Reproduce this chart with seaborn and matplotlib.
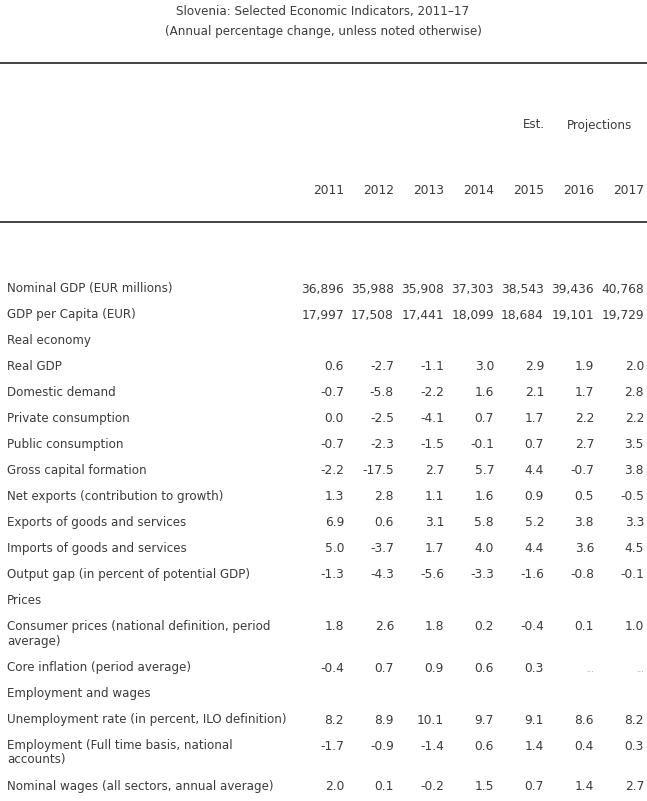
import numpy as np
import matplotlib.pyplot as plt
import seaborn as sns

# Table content
title = 'Slovenia: Selected Economic Indicators, 2011\u201317'
subtitle = '(Annual percentage change, unless noted otherwise)'
years = ['2011', '2012', '2013', '2014', '2015', '2016', '2017']

row_labels = [
    'Nominal GDP (EUR millions)',
    'GDP per Capita (EUR)',
    'Real economy',
    'Real GDP',
    'Domestic demand',
    'Private consumption',
    'Public consumption',
    'Gross capital formation',
    'Net exports (contribution to growth)',
    'Exports of goods and services',
    'Imports of goods and services',
    'Output gap (in percent of potential GDP)',
    'Prices',
    'Consumer prices (national definition, period\naverage)',
    'Core inflation (period average)',
    'Employment and wages',
    'Unemployment rate (in percent, ILO definition)',
    'Employment (Full time basis, national\naccounts)',
    'Nominal wages (all sectors, annual average)',
]

nominal_gdp = [36896, 35988, 35908, 37303, 38543, 39436, 40768]
gdp_per_capita = [17997, 17508, 17441, 18099, 18684, 19101, 19729]
real_gdp = [0.6, -2.7, -1.1, 3.0, 2.9, 1.9, 2.0]
domestic_demand = [-0.7, -5.8, -2.2, 1.6, 2.1, 1.7, 2.8]
private_consumption = [0.0, -2.5, -4.1, 0.7, 1.7, 2.2, 2.2]
public_consumption = [-0.7, -2.3, -1.5, -0.1, 0.7, 2.7, 3.5]
gross_capital = [-2.2, -17.5, 2.7, 5.7, 4.4, -0.7, 3.8]
net_exports = [1.3, 2.8, 1.1, 1.6, 0.9, 0.5, -0.5]
exports = [6.9, 0.6, 3.1, 5.8, 5.2, 3.8, 3.3]
imports = [5.0, -3.7, 1.7, 4.0, 4.4, 3.6, 4.5]
output_gap = [-1.3, -4.3, -5.6, -3.3, -1.6, -0.8, -0.1]
consumer_prices = [1.8, 2.6, 1.8, 0.2, -0.4, 0.1, 1.0]
core_inflation = [-0.4, 0.7, 0.9, 0.6, 0.3, None, None]
unemployment = [8.2, 8.9, 10.1, 9.7, 9.1, 8.6, 8.2]
employment = [-1.7, -0.9, -1.4, 0.6, 1.4, 0.4, 0.3]
nominal_wages = [2.0, 0.1, -0.2, 1.5, 0.7, 1.4, 2.7]

row_values = [
    nominal_gdp, gdp_per_capita, None, real_gdp, domestic_demand,
    private_consumption, public_consumption, gross_capital, net_exports,
    exports, imports, output_gap, None, consumer_prices, core_inflation,
    None, unemployment, employment, nominal_wages,
]


def fmt(v, big):
    if v is None:
        return None
    if big:
        return '{:,}'.format(v)
    return '{:.1f}'.format(v)


sns.set_theme(style='white')
plt.rcParams['font.family'] = ['DejaVu Sans']

text_color = '#3b3b3b'
fs_text = 8.6   # labels and titles
fs_num = 8.8    # numbers and years

fig = plt.figure(figsize=(6.47, 8.01), dpi=100)
ax = fig.add_axes([0, 0, 1, 1])
ax.set_xlim(0, 647)
ax.set_ylim(801, 0)
ax.axis('off')

# Titles
ax.text(323, 12, title, ha='center', va='center', fontsize=fs_text, color=text_color)
ax.text(323, 32, subtitle, ha='center', va='center', fontsize=fs_text, color=text_color)

# Rules
ax.axhline(63, color='#222222', lw=1.2)
ax.axhline(222, color='#222222', lw=1.2)

# Column headers
col_right = [344 + 50 * i for i in range(len(years))]
ax.text(545, 125, 'Est.', ha='right', va='center', fontsize=fs_text, color=text_color)
ax.text(599, 125, 'Projections', ha='center', va='center', fontsize=fs_text, color=text_color)
for x, yr in zip(col_right, years):
    ax.text(x, 190, yr, ha='right', va='center', fontsize=fs_num, color=text_color)

# Body rows
y = 289
for label, vals in zip(row_labels, row_values):
    n_lines = label.count('\n') + 1
    ax.text(7, y - 7, label, ha='left', va='top', fontsize=fs_text,
            color=text_color, linespacing=1.15)
    if vals is not None:
        big = vals is nominal_gdp or vals is gdp_per_capita
        for x, v in zip(col_right, vals):
            s = fmt(v, big)
            if s is None:
                ax.text(x, y + 1, '...', ha='right', va='center',
                        fontsize=6, color='#8a8a8a')
            else:
                ax.text(x, y, s, ha='right', va='center', fontsize=fs_num,
                        color=text_color)
    y += 26 + 15 * (n_lines - 1)

fig.savefig('out.png', dpi=100, facecolor='white')
